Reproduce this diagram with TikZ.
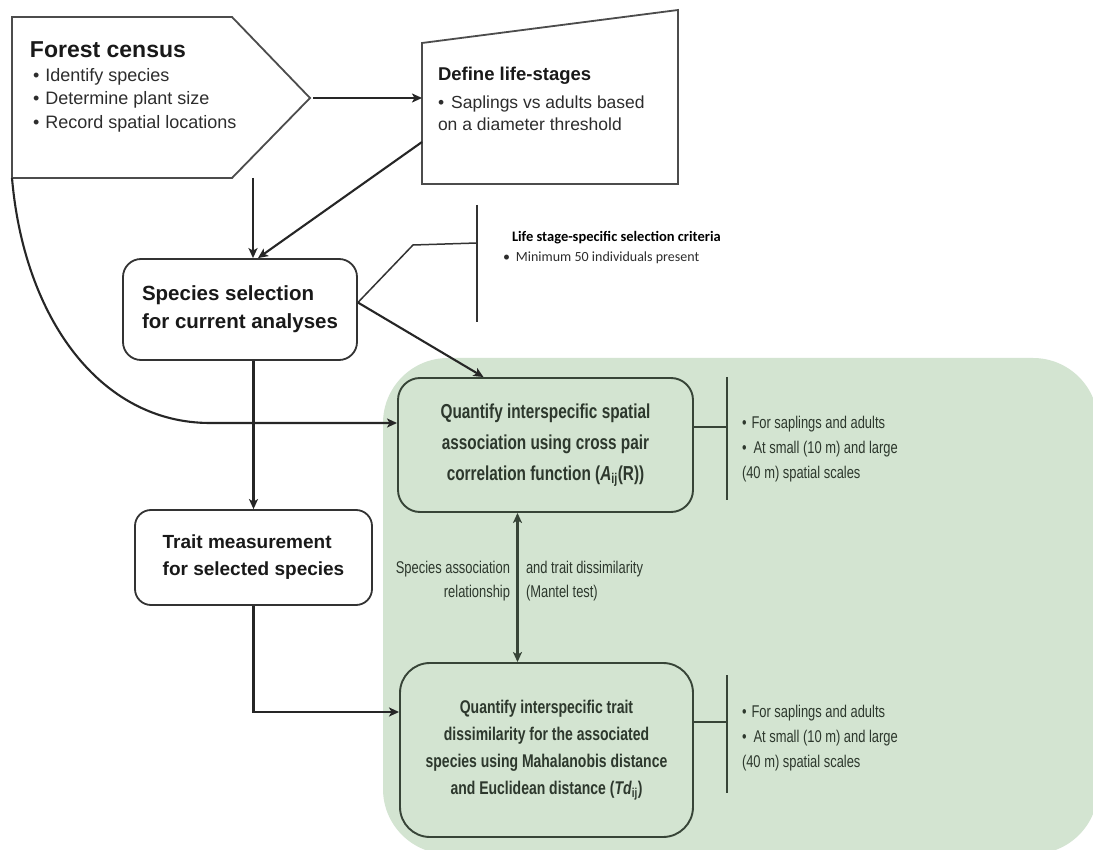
\documentclass[tikz,border=0pt]{standalone}
\usepackage{fontspec}
\setmainfont{Liberation Sans}
\newfontfamily\narrowfont[FakeStretch=0.76]{Liberation Sans}
\newfontfamily\calfont{Carlito}
\usetikzlibrary{arrows.meta,calc}
\definecolor{bggreen}{RGB}{211,228,209}
\definecolor{edgegreen}{RGB}{55,68,55}
\definecolor{txtgreen}{RGB}{45,56,45}
\definecolor{txtgrey}{RGB}{45,45,45}
\tikzset{
  arr/.style={-{Stealth[length=10pt,width=9pt,inset=2.5pt]}, line width=2.1pt, draw=black!85},
  darr/.style={{Stealth[length=10pt,width=9pt,inset=2.5pt]}-{Stealth[length=10pt,width=9pt,inset=2.5pt]}, line width=2.1pt, draw=edgegreen},
  thinline/.style={line width=1.5pt, draw=black!80},
  bracketline/.style={line width=1.8pt, draw=edgegreen},
  shapeline/.style={line width=1.8pt, draw=black!70, fill=white},
  rbox/.style={draw=black!80, line width=1.8pt, fill=white, align=left, inner sep=0pt,
    text=black!90},
  qbox/.style={draw=edgegreen, line width=1.9pt, fill=bggreen, align=center, inner sep=0pt,
    text=txtgreen},
  plain/.style={inner sep=0pt, outer sep=0pt},
  rtext/.style={plain, align=left, anchor=north west, text=txtgreen,
    font=\narrowfont\fontsize{17}{25}\selectfont},
}
\begin{document}
\begin{tikzpicture}[x=1pt,y=-1pt]
\useasboundingbox (0,0) rectangle (1093,850);
\fill[white] (0,0) rectangle (1093,850);
% green background
\fill[bggreen, rounded corners=65pt] (383,358) rectangle (1098,854);

% Forest census pentagon
\draw[shapeline] (12,17) -- (232,17) -- (310,98) -- (232,178) -- (12,178) -- cycle;
\coordinate (fctip) at (310,98);
\coordinate (fcbot) at (253,178);
\coordinate (fcsw) at (12,178);
\node[plain, anchor=base west, font=\fontsize{23}{27}\selectfont\bfseries, text=black!90] (fctitle) at (30,58) {Forest census};
\node[plain, anchor=north west, align=left, font=\fontsize{18}{23.5}\selectfont, text=txtgrey] (fclist) at (33,68)
  {\textbullet\hspace{6pt}Identify species\\\textbullet\hspace{6pt}Determine plant size\\\textbullet\hspace{6pt}Record spatial locations};

% Define life-stages
\draw[shapeline] (422,43) -- (678,10) -- (678,184) -- (422,184) -- cycle;
\coordinate (dlw) at (422,98);
\coordinate (dlsw) at (422,142);
\node[plain, anchor=base west, font=\fontsize{18.5}{22}\selectfont\bfseries, text=black!90] (dltitle) at (438,81) {Define life-stages};
\node[plain, anchor=north west, align=left, font=\fontsize{17.5}{22}\selectfont, text=txtgrey] (dllist) at (438,95.5)
  {\textbullet\hspace{7pt}Saplings vs adults based\\on a diameter threshold};

% Species selection
\node[rbox, rounded corners=18pt, minimum width=234pt, minimum height=101pt,
  font=\fontsize{20.5}{28}\selectfont\bfseries] (ss) at (240,309.5)
  {Species selection\\for current analyses};
\coordinate (sse) at ($(ss.east)+(0,-7)$);

% Life stage criteria
\coordinate (lsk) at (413,245);
\coordinate (lsb) at (477,243);
\coordinate (lstop) at (477,205);
\coordinate (lsbot) at (477,322);
\draw[thinline] (sse) -- (lsk) -- (lsb);
\draw[thinline] (lstop) -- (lsbot);
\node[plain, anchor=base west, font=\calfont\fontsize{14.5}{16}\selectfont\bfseries] (lstitle) at (512,242) {Life stage-specific selection criteria};
\node[plain, anchor=base west, font=\calfont\fontsize{14}{16}\selectfont, text=txtgrey] (lslist) at (503,262) {\textbullet\hspace{6pt}Minimum 50 individuals present};

% Trait measurement
\node[rbox, rounded corners=16pt, minimum width=237pt, minimum height=95pt,
  font=\fontsize{19}{27}\selectfont\bfseries] (tm) at (253.5,557.5)
  {Trait measurement\\for selected species};

% Quantify boxes
\node[qbox, rounded corners=22pt, minimum width=295pt, minimum height=134pt,
  font=\narrowfont\fontsize{20.2}{31}\selectfont\bfseries] (q1) at (545.5,445)
  {Quantify interspecific spatial\\association using cross pair\\correlation function (\textit{A}\textsubscript{ij}(R))};
\node[qbox, rounded corners=30pt, minimum width=293pt, minimum height=174pt,
  font=\narrowfont\fontsize{18.4}{27}\selectfont\bfseries] (q2) at (546.5,750)
  {Quantify interspecific trait\\dissimilarity for the associated\\species using Mahalanobis distance\\and Euclidean distance (\textit{Td}\textsubscript{ij})};

% right-side notes
\coordinate (b1) at (727,427);
\coordinate (b1t) at (727,377);
\coordinate (b1b) at (727,500);
\draw[bracketline] ($(q1.east)+(0,-18)$) -- (b1);
\draw[bracketline] (b1t) -- (b1b);
\node[rtext] (n1) at (742,416)
  {\textbullet\hspace{5pt}For saplings and adults\\\textbullet\hspace{7pt}At small (10 m) and large\\(40 m) spatial scales};
\coordinate (b2) at (727,722);
\coordinate (b2t) at (727,675);
\coordinate (b2b) at (727,793);
\draw[bracketline] ($(q2.east)+(0,-28)$) -- (b2);
\draw[bracketline] (b2t) -- (b2b);
\node[rtext] (n2) at (742,705)
  {\textbullet\hspace{5pt}For saplings and adults\\\textbullet\hspace{7pt}At small (10 m) and large\\(40 m) spatial scales};

% Mantel labels
\node[plain, anchor=north east, align=right, text=txtgreen, font=\narrowfont\fontsize{17}{24}\selectfont] (ml) at (510,561)
  {Species association\\relationship};
\node[plain, anchor=north west, align=left, text=txtgreen, font=\narrowfont\fontsize{17}{24}\selectfont] (mr) at (526,561)
  {and trait dissimilarity\\(Mantel test)};

% connectors
\draw[arr] ($(fctip)+(3,0)$) -- (dlw);
\draw[arr] (fcbot) -- (fcbot |- ss.north);
\draw[arr] (dlsw) -- ($(ss.north)+(18,0)$);
\coordinate (q1in) at ($(q1.west)+(0,-22)$);
\draw[arr] (fcsw) .. controls (24,318) and (100,423) .. (210,423) -- (q1in);
\draw[arr] (sse) -- ($(q1.north)+(-62,0)$);
\draw[arr] (tm.north |- ss.south) -- (tm.north);
\coordinate (q2in) at ($(q2.west)+(0,-38)$);
\draw[arr] (tm.south) |- (q2in);
\coordinate (da1) at ($(q1.south)+(-28,0)$);
\draw[darr] (da1) -- (da1 |- q2.north);
\end{tikzpicture}
\end{document}
